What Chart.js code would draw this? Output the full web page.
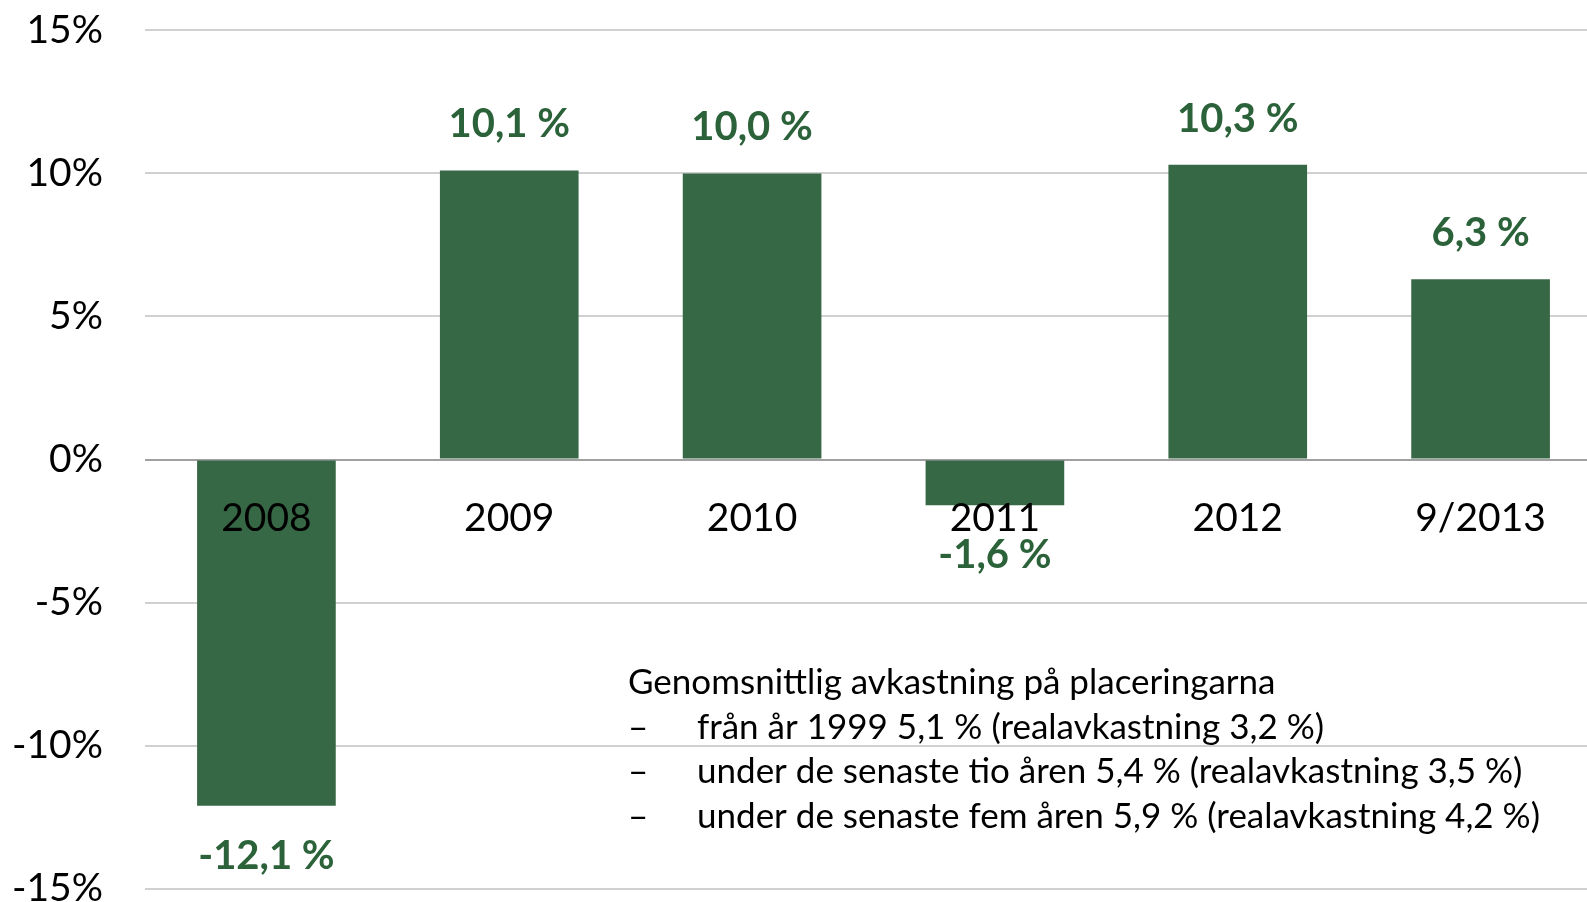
<!DOCTYPE html>
<html>
<head>
<meta charset="utf-8">
<script src="https://cdn.jsdelivr.net/npm/chart.js@4.4.1/dist/chart.umd.min.js"></script>
<style>
    html, body { margin: 0; padding: 0; background: #fff; overflow: hidden; }
    #wrap { width: 1602px; height: 989px; margin-top: -35px; }
</style>
</head>
<body>
<div id="wrap"><canvas id="returnChart" width="1602" height="989"></canvas></div>
<script>
// Data
const years = ['2008', '2009', '2010', '2011', '2012', '9/2013'];
const returns = [-12.1, 10.1, 10.0, -1.6, 10.3, 6.3];
const yTicks = [-15, -10, -5, 0, 5, 10, 15];
const noteLines = [
    'Genomsnittlig avkastning på placeringarna',
    'från år 1999 5,1 % (realavkastning 3,2 %)',
    'under de senaste tio åren 5,4 % (realavkastning 3,5 %)',
    'under de senaste fem åren 5,9 % (realavkastning 4,2 %)'
];

const barColor = '#376846';
const labelColor = '#2b6239';
const fontFamily = 'Lato, "Open Sans", sans-serif';

const fmtPct = v => v.toFixed(1).replace('.', ',') + ' %';

// value labels above / below each bar
const valueLabels = {
    id: 'valueLabels',
    afterDatasetsDraw(chart) {
        const ctx = chart.ctx;
        const meta = chart.getDatasetMeta(0);
        ctx.save();
        ctx.font = 'bold 40px ' + fontFamily;
        ctx.fillStyle = labelColor;
        ctx.textAlign = 'center';
        ctx.textBaseline = 'middle';
        meta.data.forEach((bar, i) => {
            const v = returns[i];
            const y = v >= 0 ? bar.y - 46 : bar.y + 50;
            ctx.fillText(fmtPct(v), bar.x, y);
        });
        ctx.restore();
    }
};

// text box in the lower right
const noteBox = {
    id: 'noteBox',
    afterDraw(chart) {
        const ctx = chart.ctx;
        const y = chart.scales.y;
        const left = 628;
        let top = y.getPixelForValue(-7.8);
        ctx.save();
        ctx.font = '35px ' + fontFamily;
        ctx.fillStyle = '#000';
        ctx.textBaseline = 'middle';
        ctx.fillText(noteLines[0], left, top);
        for (let i = 1; i < noteLines.length; i++) {
            const ly = top + i * 44.7;
            ctx.fillText('\u2013', left, ly);
            ctx.fillText(noteLines[i], left + 69, ly);
        }
        ctx.restore();
    }
};

new Chart(document.getElementById('returnChart').getContext('2d'), {
    type: 'bar',
    data: {
        labels: years,
        datasets: [{
            data: returns,
            backgroundColor: barColor,
            borderWidth: 0,
            categoryPercentage: 1,
            barPercentage: 0.571
        }]
    },
    options: {
        responsive: false,
        animation: false,
        devicePixelRatio: 1,
        layout: { padding: 0 },
        plugins: {
            legend: { display: false },
            tooltip: { enabled: false }
        },
        scales: {
            x: {
                position: { y: 0 },
                grid: { display: false },
                border: { display: false },
                ticks: {
                    z: 1,
                    color: '#000',
                    padding: 28,
                    font: { family: fontFamily, size: 39 }
                }
            },
            y: {
                min: -15,
                max: 15,
                afterBuildTicks: scale => { scale.ticks = yTicks.map(v => ({ value: v })); },
                afterFit: scale => { scale.width = 145; },
                border: { display: false },
                grid: {
                    drawTicks: false,
                    lineWidth: 2,
                    color: c => c.tick && c.tick.value === 0 ? '#a0a0a0' : '#d0d0d0'
                },
                ticks: {
                    color: '#000',
                    padding: 42,
                    font: { family: fontFamily, size: 39 },
                    callback: v => v + '%'
                }
            }
        }
    },
    plugins: [valueLabels, noteBox]
});
</script>
</body>
</html>
